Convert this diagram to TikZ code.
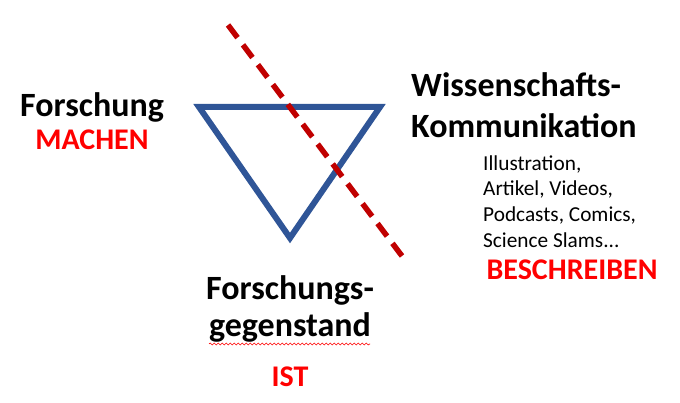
\documentclass[tikz,border=0pt]{standalone}
\usepackage{fontspec}
\setmainfont{Carlito}
\usetikzlibrary{decorations.pathmorphing}
\definecolor{triblue}{HTML}{2F5597}
\definecolor{dashred}{HTML}{C00000}
\definecolor{wordred}{HTML}{FF0000}
\tikzset{
  big/.style={font=\fontsize{34}{40}\selectfont\bfseries, anchor=base, inner sep=0pt},
  bigleft/.style={big, anchor=base west},
  redword/.style={font=\fontsize{30}{35}\selectfont\bfseries, text=wordred, anchor=base, inner sep=0pt},
  small/.style={font=\fontsize{21.3}{26}\selectfont, anchor=base west, inner sep=0pt},
  tri/.style={draw=triblue, line width=6pt, line join=miter},
  cut/.style={draw=dashred, line width=5.5pt, dash pattern=on 15.85pt off 9pt},
}
\begin{document}
\begin{tikzpicture}[x=1pt,y=-1pt]
\useasboundingbox (0,0) rectangle (680,403);
\coordinate (tl) at (199,107);
\coordinate (tr) at (380,107);
\coordinate (bt) at (290,238);
\draw[tri] (tl) -- (tr) -- (bt) -- cycle;
\coordinate (c1) at (228,25);
\coordinate (c2) at (402,256);
\draw[cut] (c1) -- (c2);
\node[big] (fo) at (92,117) {Forschung};
\node[redword] (ma) at (92,150) {MACHEN};
\node[bigleft] (wi) at (411,97) {Wissenschafts-};
\node[bigleft] (ko) at (411,138) {Kommunikation};
\node[small] (s1) at (483,171) {Illustration,};
\node[small] (s2) at (483,196) {Artikel, Videos,};
\node[small] (s3) at (483,222) {Podcasts, Comics,};
\node[small] (s4) at (483,248) {Science Slams...};
\node[redword] (be) at (572,280) {BESCHREIBEN};
\node[big] (fg) at (290,300) {Forschungs-};
\node[big] (ge) at (290,337) {gegenstand};
\node[redword] (is) at (290,386) {IST};
\coordinate (w1) at (209,344);
\coordinate (w2) at (370,344);
\draw[wordred, line width=0.6pt, decorate, decoration={snake, amplitude=1pt, segment length=4pt}] (w1) -- (w2);
\end{tikzpicture}
\end{document}
